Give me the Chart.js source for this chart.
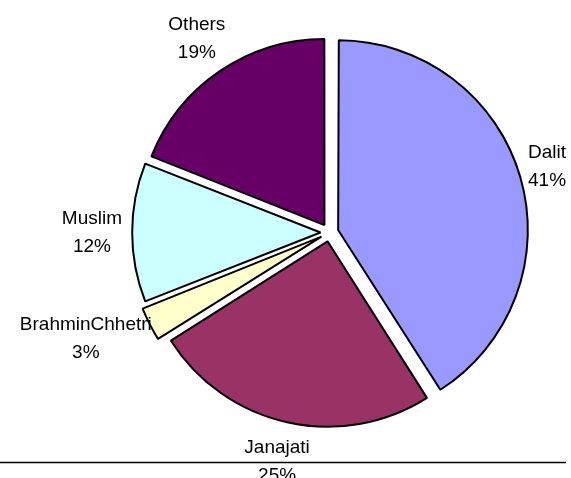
<!DOCTYPE html>
<html lang="en">
<head>
    <meta charset="UTF-8">
    <title>Pie Chart</title>
    <script src="https://cdn.jsdelivr.net/npm/chart.js"></script>
    <style>
        body { margin: 0; background: #fff; }
    </style>
</head>
<body>
    <canvas id="pieChart" width="571" height="478"></canvas>

    <script>
    // Categories and shares (percent)
    var categories = ["Dalit", "Janajati", "BrahminChhetri", "Muslim", "Others"];
    var shares = [41, 25, 3, 12, 19];
    var sliceColors = ["#9999FF", "#993366", "#FFFFCC", "#CCFFFF", "#660066"];

    // Draws "name / pct%" labels outside each slice
    var outsideLabels = {
        id: "outsideLabels",
        afterDatasetsDraw: function(chart) {
            var ctx = chart.ctx;
            var meta = chart.getDatasetMeta(0);
            var ds = chart.data.datasets[0];
            var total = ds.data.reduce(function(a, b) { return a + b; }, 0);
            ctx.save();
            ctx.font = "19px 'Liberation Sans', Arial, sans-serif";
            ctx.fillStyle = "#000";
            ctx.textAlign = "center";
            ctx.textBaseline = "middle";
            meta.data.forEach(function(arc, i) {
                var p = arc.getProps(["x", "y", "startAngle", "endAngle", "outerRadius"], true);
                var mid = (p.startAngle + p.endAngle) / 2;
                var dx = Math.cos(mid), dy = Math.sin(mid);
                var line1 = chart.data.labels[i];
                var line2 = Math.round(ds.data[i] / total * 100) + "%";
                var hw = Math.max(ctx.measureText(line1).width, ctx.measureText(line2).width) / 2;
                // chart.js v4 moves an arc out by offset / 4; anchor just past the rim
                var dist = p.outerRadius + ds.offset / 4 + 11;
                var cx = p.x + dx * dist + dx * (hw + 2);
                var cy = p.y + dy * dist + dy * 29;
                ctx.fillText(line1, cx, cy - 14);
                ctx.fillText(line2, cx, cy + 14);
            });
            ctx.restore();
        },
        afterDraw: function(chart) {
            // thin rule near the bottom of the picture
            var ctx = chart.ctx;
            ctx.save();
            ctx.strokeStyle = "#000";
            ctx.lineWidth = 1.5;
            ctx.beginPath();
            ctx.moveTo(0, 462.5);
            ctx.lineTo(566, 462.5);
            ctx.stroke();
            ctx.restore();
        }
    };

    function createPieChart() {
        var ctx = document.getElementById("pieChart").getContext("2d");
        new Chart(ctx, {
            type: "pie",
            data: {
                labels: categories,
                datasets: [{
                    data: shares,
                    backgroundColor: sliceColors,
                    borderColor: "#000",
                    borderWidth: 2,
                    offset: 36
                }]
            },
            options: {
                responsive: false,
                animation: false,
                radius: 185.5,
                layout: { padding: { left: 88, right: 0, top: 0, bottom: 13 } },
                plugins: {
                    legend: { display: false },
                    tooltip: { enabled: false }
                }
            },
            plugins: [outsideLabels]
        });
    }

    createPieChart();
    </script>
</body>
</html>
